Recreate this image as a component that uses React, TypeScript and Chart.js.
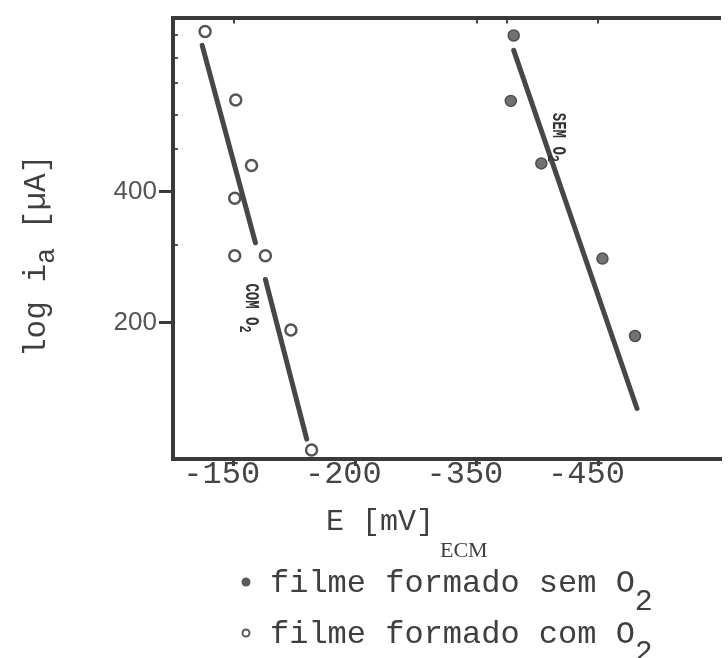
import React, { useEffect, useRef } from "react";
import { Chart, registerables } from "chart.js";

Chart.register(...registerables);

// ---- axis ticks (broken potential axis: evenly spaced labels) ----
const xTickMv = [-150, -200, -350, -450];
const xTickLabels = ["-150", "-200", "-350", "-450"];
const xTopTickMv = [-150, -350, -375, -450];
const yTickValues = [200, 400];
const yTickLabels = ["200", "400"];
const yMinorTicks = [319, 466, 518, 566, 604, 639];

// ---- filme formado com O2 (open circles) ----
const comMv = [-138.2, -150.8, -157.3, -150.4, -150.4, -163.0, -173.5, -182.0];
const comLog = [644.8, 540.3, 440.3, 390.3, 302.5, 302.5, 188.9, 5.6];
const comFitUpperMv = [-137.0, -158.9];
const comFitUpperLog = [623.6, 322.2];
const comFitLowerMv = [-163.0, -180.0];
const comFitLowerLog = [266.1, 22.3];

// ---- filme formado sem O2 (filled circles) ----
const semMv = [-380.3, -377.9, -403.0, -453.3, -480.1];
const semLog = [638.7, 538.8, 443.4, 298.0, 179.8];
const semFitMv = [-380.3, -481.7];
const semFitLog = [616.0, 69.2];

// ---- texts ----
const xTitle = "E [mV]";
const xTitleSub = "ECM";
const yTitleParts = [
  { t: "log i" },
  { t: "a", sub: true },
  { t: " [µA]" },
];
const legendSem = "filme formado sem O";
const legendCom = "filme formado com O";
const subTwo = "2";
const lineLabelCom = { mv: -154.9, log: 260.1, text: "COM O", sub: "2" };
const lineLabelSem = { mv: -413.0, log: 520.6, text: "SEM O", sub: "2" };

const MONO = "'Liberation Mono', 'DejaVu Sans Mono', monospace";
const INK = "#3f3f3f";

// map potential (mV) onto the evenly spaced tick positions of the broken axis
function mvToPos(mv: number): number {
  const n = xTickMv.length;
  let i = 0;
  if (mv <= xTickMv[n - 2]) i = n - 2;
  else {
    for (let k = 0; k < n - 1; k++) {
      if (mv <= xTickMv[k] && mv >= xTickMv[k + 1]) {
        i = k;
        break;
      }
    }
  }
  return i + (mv - xTickMv[i]) / (xTickMv[i + 1] - xTickMv[i]);
}

const pts = (xs: number[], ys: number[]) =>
  xs.map((x, i) => ({ x: mvToPos(x), y: ys[i] }));

type Part = { t: string; sub?: boolean };

function drawRich(
  ctx: CanvasRenderingContext2D,
  x: number,
  y: number,
  angle: number,
  parts: Part[],
  font: string,
  subFont: string,
  subShift: number,
  stretch = 1
) {
  ctx.save();
  ctx.translate(x, y);
  ctx.rotate(angle);
  ctx.scale(1, stretch);
  ctx.textAlign = "left";
  ctx.textBaseline = "alphabetic";
  let cx = 0;
  for (const p of parts) {
    ctx.font = p.sub ? subFont : font;
    ctx.fillText(p.t, cx, p.sub ? subShift : 0);
    cx += ctx.measureText(p.t).width;
  }
  ctx.restore();
}

const textPlugin = {
  id: "textPlugin",
  afterDraw(chart: any) {
    const ctx: CanvasRenderingContext2D = chart.ctx;
    const xs = chart.scales.x;
    const ys = chart.scales.y;
    ctx.save();
    ctx.fillStyle = INK;

    // y title (rotated)
    drawRich(ctx, 45, 357, -Math.PI / 2, yTitleParts, `31px ${MONO}`, `27px ${MONO}`, 9);

    // x title
    drawRich(ctx, 326, 530, 0, [{ t: xTitle }], `30px ${MONO}`, `30px ${MONO}`, 0);
    drawRich(ctx, 440, 557, 0, [{ t: xTitleSub }], `22px 'Liberation Serif', serif`, `22px serif`, 0);

    // labels along the fitted lines
    ctx.fillStyle = "#333";
    for (const lab of [lineLabelCom, lineLabelSem]) {
      const px = xs.getPixelForValue(mvToPos(lab.mv));
      const py = ys.getPixelForValue(lab.log);
      drawRich(
        ctx,
        px,
        py,
        Math.PI / 2,
        [{ t: lab.text }, { t: lab.sub, sub: true }],
        `bold 14px ${MONO}`,
        `bold 12px ${MONO}`,
        4,
        1.4
      );
    }

    // legend
    ctx.fillStyle = "#5a5a5a";
    ctx.beginPath();
    ctx.arc(246, 582, 4.5, 0, Math.PI * 2);
    ctx.fill();
    ctx.strokeStyle = "#5a5a5a";
    ctx.lineWidth = 2;
    ctx.beginPath();
    ctx.arc(246, 633, 3.5, 0, Math.PI * 2);
    ctx.stroke();
    ctx.fillStyle = INK;
    drawRich(ctx, 270, 592, 0, [{ t: legendSem }, { t: subTwo, sub: true }], `32px ${MONO}`, `30px ${MONO}`, 18);
    drawRich(ctx, 270, 643, 0, [{ t: legendCom }, { t: subTwo, sub: true }], `32px ${MONO}`, `30px ${MONO}`, 18);
    ctx.restore();
  },
};

export default function App() {
  const ref = useRef<HTMLCanvasElement | null>(null);

  useEffect(() => {
    if (!ref.current) return;
    const lineDs = (label: string, xs: number[], ys: number[]) => ({
      label,
      data: pts(xs, ys),
      showLine: true,
      borderColor: "#474747",
      borderWidth: 5,
      borderCapStyle: "round" as const,
      pointRadius: 0,
      fill: false,
    });
    const chart = new Chart(ref.current, {
      type: "scatter",
      data: {
        datasets: [
          lineDs("fit com O2 (a)", comFitUpperMv, comFitUpperLog),
          lineDs("fit com O2 (b)", comFitLowerMv, comFitLowerLog),
          lineDs("fit sem O2", semFitMv, semFitLog),
          {
            label: "filme formado com O2",
            data: pts(comMv, comLog),
            pointRadius: 5.5,
            pointBackgroundColor: "rgba(255,255,255,0)",
            pointBorderColor: "#555555",
            pointBorderWidth: 2.5,
            showLine: false,
          },
          {
            label: "filme formado sem O2",
            data: pts(semMv, semLog),
            pointRadius: 5.5,
            pointBackgroundColor: "#727272",
            pointBorderColor: "#4e4e4e",
            pointBorderWidth: 1.5,
            showLine: false,
          },
        ],
      },
      options: {
        responsive: false,
        animation: false,
        devicePixelRatio: 1,
        layout: { padding: { left: 0, top: 14, right: 1, bottom: 0 } },
        plugins: { legend: { display: false }, tooltip: { enabled: false } },
        scales: {
          x: {
            type: "linear",
            position: "bottom",
            min: -0.5,
            max: 4,
            afterBuildTicks: (s: any) => {
              s.ticks = xTickMv.map((_, i) => ({ value: i }));
            },
            afterFit: (s: any) => {
              s.height = 199;
            },
            ticks: {
              callback: (v: any) => xTickLabels[Math.round(Number(v))] ?? "",
              font: { family: MONO, size: 32 },
              color: "#454545",
              padding: -11,
              labelOffset: -12,
              maxRotation: 0,
              autoSkip: false,
            },
            grid: { drawOnChartArea: false, drawTicks: true, tickLength: 7, color: "#3a3a3a", lineWidth: 3 },
            border: { display: true, color: "#3a3a3a", width: 4 },
          },
          xTop: {
            type: "linear",
            position: "top",
            min: -0.5,
            max: 4,
            afterBuildTicks: (s: any) => {
              s.ticks = xTopTickMv.map((mv) => ({ value: mvToPos(mv) }));
            },
            afterFit: (s: any) => {
              s.height = 0;
            },
            ticks: { display: false },
            grid: { drawOnChartArea: false, drawTicks: true, tickLength: -6, color: "#444", lineWidth: 2 },
            border: { display: true, color: "#3a3a3a", width: 4 },
          },
          y: {
            type: "linear",
            position: "left",
            min: -8,
            max: 666,
            weight: 1,
            afterBuildTicks: (s: any) => {
              s.ticks = yTickValues.map((v) => ({ value: v }));
            },
            afterFit: (s: any) => {
              s.width = 173;
            },
            ticks: {
              callback: (v: any) => {
                const i = yTickValues.indexOf(Number(v));
                return i >= 0 ? yTickLabels[i] : "";
              },
              font: { family: "'Liberation Sans', Arial, sans-serif", size: 26 },
              color: "#555",
              padding: 2,
            },
            grid: { drawOnChartArea: false, drawTicks: true, tickLength: 14, color: "#3a3a3a", lineWidth: 3 },
            border: { display: true, color: "#3a3a3a", width: 4 },
          },
          yMinor: {
            type: "linear",
            position: "left",
            min: -8,
            max: 666,
            weight: 0,
            afterBuildTicks: (s: any) => {
              s.ticks = yMinorTicks.map((v) => ({ value: v }));
            },
            afterFit: (s: any) => {
              s.width = 0;
            },
            ticks: { display: false },
            grid: { drawOnChartArea: false, drawTicks: true, tickLength: -5, color: "#555", lineWidth: 2 },
            border: { display: false },
          },
        },
      } as any,
      plugins: [textPlugin],
    });
    return () => chart.destroy();
  }, []);

  return (
    <div style={{ position: "absolute", left: 0, top: 0, width: 728, height: 658, background: "#fff" }}>
      <canvas ref={ref} width={728} height={658} style={{ display: "block" }} />
    </div>
  );
}
